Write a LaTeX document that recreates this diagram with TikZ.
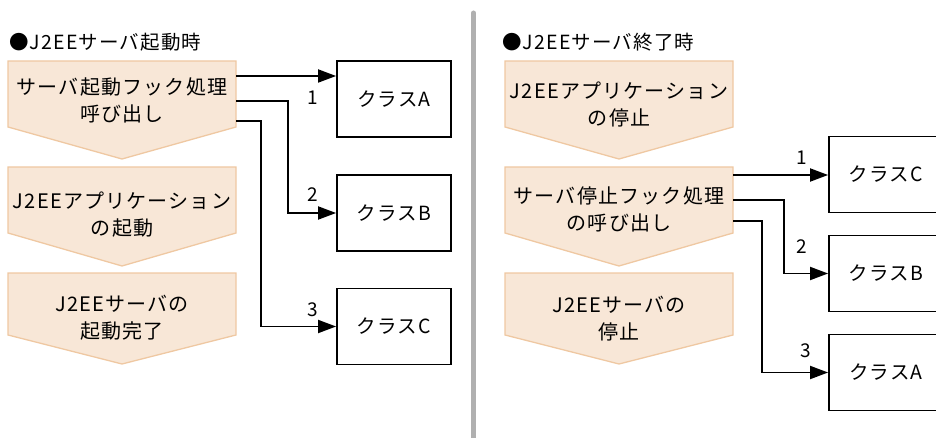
\documentclass[tikz,border=0pt]{standalone}
\usepackage{fontspec}
\setmainfont{Noto Sans CJK JP}[LetterSpace=6]
\usetikzlibrary{arrows.meta}
\definecolor{chevfill}{HTML}{F8E7D7}
\definecolor{chevdraw}{HTML}{EFC8A2}
\definecolor{sepgray}{HTML}{B0B0B0}
\tikzset{
  chev/.style={fill=chevfill,draw=chevdraw,line width=1.3pt,line join=miter},
  chevtext/.style={align=center,font=\fontsize{20}{27}\selectfont,inner sep=0pt},
  classbox/.style={draw=black,line width=1.8pt,minimum width=114pt,minimum height=76pt,inner sep=0pt,font=\fontsize{19.5}{24}\selectfont},
  conn/.style={line width=1.8pt,-{Triangle[length=18pt,width=13pt]}},
  numlabel/.style={font=\fontsize{19}{20}\selectfont,inner sep=0pt},
  titletext/.style={anchor=west,font=\fontsize{19.5}{22}\selectfont,inner sep=0pt}
}
\newcommand{\chevron}[5]{% x1, x2, top, shoulder, tip
  \path[chev] (#1,#3) -- (#2,#3) -- (#2,#4) -- ({(#1+#2)/2},#5) -- (#1,#4) -- cycle;
}
\begin{document}
\begin{tikzpicture}[x=1pt,y=-1pt]
\useasboundingbox (0,0) rectangle (936,438);
\clip (0,0) rectangle (936,438);
% separator
\draw[sepgray,line width=5pt,line cap=round] (473.5,13) -- (473.5,445);
% titles
\node[titletext] (tl) at (9,42) {●J2EEサーバ起動時};
\node[titletext] (tr) at (502,42) {●J2EEサーバ終了時};
% left chevrons
\chevron{8}{236}{61}{127}{159}
\chevron{8}{236}{167}{233}{266}
\chevron{8}{236}{273}{335}{364}
\node[chevtext] (l1) at (122,100) {サーバ起動フック処理\\呼び出し};
\node[chevtext] (l2) at (122,215) {J2EEアプリケーション\\の起動};
\node[chevtext] (l3) at (122,318) {J2EEサーバの\\起動完了};
% right chevrons
\chevron{505}{733}{61}{127}{159}
\chevron{505}{733}{167}{233}{266}
\chevron{505}{733}{273}{335}{364}
\node[chevtext] (r1) at (619,105) {J2EEアプリケーション\\の停止};
\node[chevtext] (r2) at (619,209) {サーバ停止フック処理\\の呼び出し};
\node[chevtext] (r3) at (619,319) {J2EEサーバの\\停止};
% left boxes
\node[classbox] (la) at (394,99) {クラスA};
\node[classbox] (lb) at (394,213) {クラスB};
\node[classbox] (lc) at (394,326.5) {クラスC};
% right boxes
\node[classbox] (rc) at (886,174.5) {クラスC};
\node[classbox] (rb) at (886,273.5) {クラスB};
\node[classbox] (ra) at (886,372.5) {クラスA};
% left connectors
\coordinate (ls1) at (236,76);
\coordinate (ls2) at (236,101);
\coordinate (ls3) at (236,121);
\coordinate (lk2) at (288,101);
\coordinate (lk3) at (261,121);
\draw[conn] (ls1) -- (ls1 -| la.west);
\draw[conn] (ls2) -- (lk2) -- (lk2 |- lb.west) -- (lb.west);
\draw[conn] (ls3) -- (lk3) -- (lk3 |- lc.west) -- (lc.west);
\node[numlabel] (n1) at (313,98) {1};
\node[numlabel] (n2) at (313,195) {2};
\node[numlabel] (n3) at (313,310) {3};
% right connectors
\coordinate (rs1) at (733,175);
\coordinate (rs2) at (733,200);
\coordinate (rs3) at (733,221);
\coordinate (rk2) at (784,200);
\coordinate (rk3) at (762,221);
\draw[conn] (rs1) -- (rs1 -| rc.west);
\draw[conn] (rs2) -- (rk2) -- (rk2 |- rb.west) -- (rb.west);
\draw[conn] (rs3) -- (rk3) -- (rk3 |- ra.west) -- (ra.west);
\node[numlabel] (m1) at (802,158) {1};
\node[numlabel] (m2) at (802,247) {2};
\node[numlabel] (m3) at (806,351) {3};
\end{tikzpicture}
\end{document}
